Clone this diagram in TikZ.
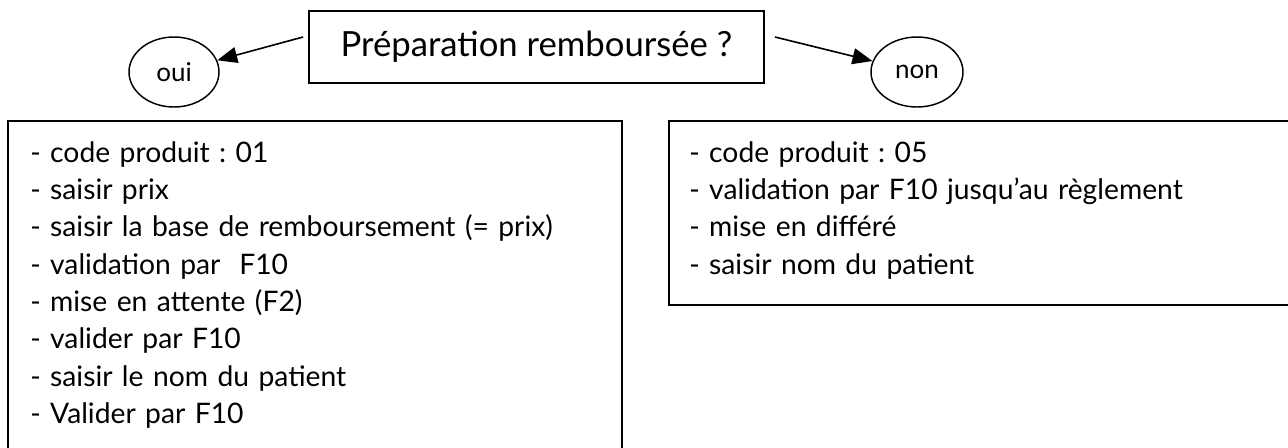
\documentclass[tikz,border=0pt]{standalone}
\usepackage{fontspec}
\setmainfont{Lato}
\usetikzlibrary{arrows.meta,shapes.geometric,calc}
\frenchspacing
\begin{document}
\begin{tikzpicture}[x=0.75pt,y=-0.75pt,
  frame/.style={draw, line width=1.4pt, rectangle, inner sep=0pt},
  bubble/.style={draw, line width=1.1pt, ellipse, inner sep=0pt, font=\fontsize{19.5}{22}\selectfont},
  arr/.style={line width=1.2pt, -{Triangle[length=15pt,width=12pt]}},
  body/.style={anchor=base west, inner sep=0pt, text width=420pt, align=left, font=\fontsize{21.2}{28}\selectfont}]
\useasboundingbox (0,0) rectangle (1288,447);
\clip (0,0) rectangle (1288,447);
\node[frame, minimum width=341.25pt, minimum height=54pt, font=\fontsize{26}{30}\selectfont] (q) at (536.5,47) {Préparation remboursée ?};
\node[bubble, minimum width=67.5pt, minimum height=52.5pt] (oui) at (174,72) {oui};
\node[bubble, minimum width=69pt, minimum height=52.5pt] (non) at (917,72) {non};
\draw[arr] ($(q.west)+(-5,-10)$) -- (oui);
\draw[arr] ($(q.east)+(10,-10)$) -- (non);
\node[frame, minimum width=460.5pt, minimum height=269.25pt] (lbox) at (315,300.5) {};
\node[frame, minimum width=473.25pt, minimum height=138pt] (rbox) at (984.5,213) {};
\node[body] (ltext) at (30,162) {- code produit : 01\\
- saisir prix\\
- saisir la base de remboursement (= prix)\\
- validation par\ \ F10\\
- mise en attente (F2)\\
- valider par F10\\
- saisir le nom du patient\\
- Valider par F10};
\node[body] (rtext) at (689,162) {- code produit : 05\\
- validation par F10 jusqu'au règlement\\
- mise en différé\\
- saisir nom du patient};
\end{tikzpicture}
\end{document}
